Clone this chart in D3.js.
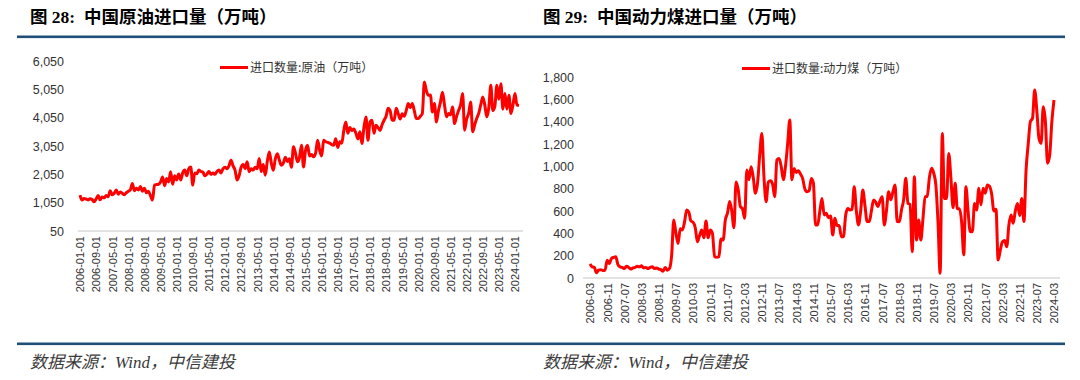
<!DOCTYPE html>
<html><head><meta charset="utf-8">
<script src="https://cdn.jsdelivr.net/npm/d3@7"></script>
<style>
body{margin:0;background:#fff;}
svg{display:block;}
</style></head>
<body>
<svg id="c" width="1080" height="380"></svg>
<script>
// ---- Data ----
const crudeTitle = "图 28:  中国原油进口量（万吨）";
const coalTitle = "图 29:  中国动力煤进口量（万吨）";
const crudeLegend = "进口数量:原油（万吨）";
const coalLegend = "进口数量:动力煤（万吨）";
const sourceText = "数据来源：Wind，中信建投";

const crudeYTicks = [50, 1050, 2050, 3050, 4050, 5050, 6050];
const coalYTicks = [0, 200, 400, 600, 800, 1000, 1200, 1400, 1600, 1800];

const crudeXTicks = ["2006-01-01","2006-09-01","2007-05-01","2008-01-01","2008-09-01","2009-05-01","2010-01-01","2010-09-01","2011-05-01","2012-01-01","2012-09-01","2013-05-01","2014-01-01","2014-09-01","2015-05-01","2016-01-01","2016-09-01","2017-05-01","2018-01-01","2018-09-01","2019-05-01","2020-01-01","2020-09-01","2021-05-01","2022-01-01","2022-09-01","2023-05-01","2024-01-01"];
const coalXTicks = ["2006-03","2006-11","2007-07","2008-03","2008-11","2009-07","2010-03","2010-11","2011-07","2012-03","2012-11","2013-07","2014-03","2014-11","2015-07","2016-03","2016-11","2017-07","2018-03","2018-11","2019-07","2020-03","2020-11","2021-07","2022-03","2022-11","2023-07","2024-03"];

// monthly crude oil imports, 2006-01 .. 2024-03 (万吨)
const crudeValues = [
  1320,1140,1200,1180,1150,1190,1160,1080,1180,1300,1150,1250,
  1220,1300,1260,1470,1330,1380,1500,1350,1430,1380,1330,1400,
  1450,1500,1730,1470,1560,1500,1620,1450,1560,1400,1450,1300,
  1140,1670,1690,1700,1780,1960,1650,1900,1780,2140,1700,2000,
  1850,2060,1850,2100,2200,2000,2250,2310,1670,2100,2070,2200,
  2150,2130,2000,2050,2150,2050,2100,2050,2150,2200,2100,2240,
  2300,2250,2350,2550,2350,2200,1850,2000,2300,2400,2250,2490,
  2140,2250,2200,2300,2250,2610,2150,2400,2020,2500,2840,2450,
  2190,2600,2780,2550,2370,2450,2650,2500,2600,2300,3020,2800,
  2490,2650,3080,2310,2900,3080,2700,2750,2670,2800,3250,2900,
  2700,3250,3200,3180,3150,3100,3080,3310,3000,3200,3150,3600,
  3900,3500,3700,3600,3650,3500,3300,3550,3140,3700,4070,3250,
  3900,3960,3500,3780,3700,3600,3800,3960,4100,4380,4300,3960,
  3960,4380,4200,4000,4190,4100,4300,4550,4400,4550,4300,4020,
  4020,4100,4200,5310,5000,4840,4850,4250,4550,3900,4300,4600,
  4950,4500,4080,4200,4150,4430,3840,4100,4300,4500,4900,3610,
  4000,4200,4600,3550,3800,4020,4200,4500,4780,4500,4080,4400,
  5190,4300,4450,5190,4700,5250,4350,4900,4350,4840,4200,4500,
  4900,4490,4490
];

// monthly thermal coal imports, 2006-03 .. 2024-03 (万吨)
const coalValues = [
  125,100,95,48,70,75,68,70,160,130,
  175,185,190,120,100,95,85,105,95,80,90,95,
  105,100,110,90,95,85,95,100,85,90,80,75,
  60,95,70,85,200,520,400,310,440,430,500,610,
  590,510,500,450,325,380,430,360,510,360,430,400,
  190,185,190,350,340,520,580,685,600,450,860,790,
  640,620,535,967,880,997,900,758,850,1100,1295,900,
  683,860,870,840,728,1057,1070,1000,880,1000,1200,1415,
  880,980,945,960,930,890,800,773,780,892,850,475,
  475,600,713,565,580,540,555,385,535,470,470,370,
  370,560,623,610,615,817,600,475,600,787,650,505,
  505,600,698,680,640,690,728,475,600,773,700,770,
  832,505,504,610,700,893,668,660,235,907,340,520,
  340,530,728,730,900,982,940,833,500,42,1295,712,
  712,1116,900,630,848,620,620,500,206,818,600,415,
  415,668,610,803,655,803,760,833,820,750,600,615,
  161,250,325,335,280,475,564,490,600,668,560,712,
  505,967,1200,1400,1430,1684,1500,1250,1206,1534,1400,1027,
  1100,1400,1594
];

const crudeCats = d3.timeMonth.range(new Date(2006,0,1), new Date(2024,3,1)).map(d3.timeFormat("%Y-%m-%d"));
const coalCats = d3.timeMonth.range(new Date(2006,2,1), new Date(2024,3,1)).map(d3.timeFormat("%Y-%m"));

const svg = d3.select("#c");
const BLUE = "#1f4e79";
const RED = "#ff0000";
const TXT = "#333";

// header / footer rules
svg.append("rect").attr("x",17).attr("y",35.5).attr("width",1048).attr("height",2.6).attr("fill",BLUE);
svg.append("rect").attr("x",17).attr("y",342.5).attr("width",1048).attr("height",2.6).attr("fill",BLUE);

function title(x, t){
  svg.append("text").attr("x",x).attr("y",23).text(t)
    .attr("xml:space","preserve").style("white-space","pre")
    .attr("font-family","'Liberation Serif','Noto Sans CJK SC',sans-serif")
    .attr("font-weight","bold").attr("font-size",17.5).attr("fill","#000");
}
title(30, crudeTitle);
title(543, coalTitle);

function footer(x){
  svg.append("text").attr("x",x).attr("y",368).text(sourceText)
    .attr("font-family","'Liberation Serif','Noto Sans CJK SC',serif")
    .attr("font-style","italic").attr("font-size",17).attr("fill","#3a3a3a");
}
footer(30); footer(543);

function drawChart(cfg){
  const x = d3.scalePoint().domain(cfg.cats).range(cfg.xr);
  const y = d3.scaleLinear().domain(cfg.yd).range(cfg.yr);
  const g = svg.append("g");
  // baseline grid
  g.append("line").attr("x1",cfg.gx[0]).attr("x2",cfg.gx[1])
    .attr("y1",cfg.yr[0]).attr("y2",cfg.yr[0]).attr("stroke","#d9d9d9").attr("stroke-width",1.5);
  // y axis
  const ya = g.append("g").attr("transform",`translate(${cfg.yAxisX},0)`)
    .call(d3.axisLeft(y).tickValues(cfg.yTicks).tickFormat(d3.format(",")).tickSize(0).tickPadding(0));
  ya.select(".domain").remove();
  ya.selectAll("text").attr("font-family","'Liberation Sans',Arial,sans-serif").attr("font-size",12.5).attr("fill",TXT);
  // x axis
  const xa = g.append("g").attr("transform",`translate(0,${cfg.yr[0]})`)
    .call(d3.axisBottom(x).tickValues(cfg.xTicks).tickSize(0));
  xa.select(".domain").remove();
  xa.selectAll("text").attr("transform","rotate(-90)").attr("x",-5).attr("y",0).attr("dy","0.35em")
    .style("text-anchor","end").attr("font-family","'Liberation Sans',Arial,sans-serif")
    .attr("font-size",11).attr("fill",TXT);
  // line
  const line = d3.line().x((d,i)=>x(cfg.cats[i])).y(d=>y(d)).curve(d3.curveMonotoneX);
  g.append("path").datum(cfg.values).attr("d",line).attr("fill","none")
    .attr("stroke",RED).attr("stroke-width",3).attr("stroke-linejoin","round");
  // legend
  g.append("line").attr("x1",cfg.leg[0]).attr("x2",cfg.leg[0]+28).attr("y1",cfg.leg[1]).attr("y2",cfg.leg[1])
    .attr("stroke",RED).attr("stroke-width",3);
  g.append("text").attr("x",cfg.leg[0]+30).attr("y",cfg.leg[1]).attr("dy","0.35em").text(cfg.legend)
    .attr("font-family","'Noto Sans CJK SC',sans-serif").attr("font-size",12).attr("fill",TXT);
}

drawChart({cats:crudeCats, values:crudeValues, xr:[80,519], gx:[78,523], yd:[50,6050], yr:[231,61],
  yTicks:crudeYTicks, xTicks:crudeXTicks, yAxisX:64, leg:[220,67.5], legend:crudeLegend});
drawChart({cats:coalCats, values:coalValues, xr:[590,1054], gx:[583,1060], yd:[0,1800], yr:[278,77],
  yTicks:coalYTicks, xTicks:coalXTicks, yAxisX:574, leg:[742,68.5], legend:coalLegend});
</script>
</body></html>
